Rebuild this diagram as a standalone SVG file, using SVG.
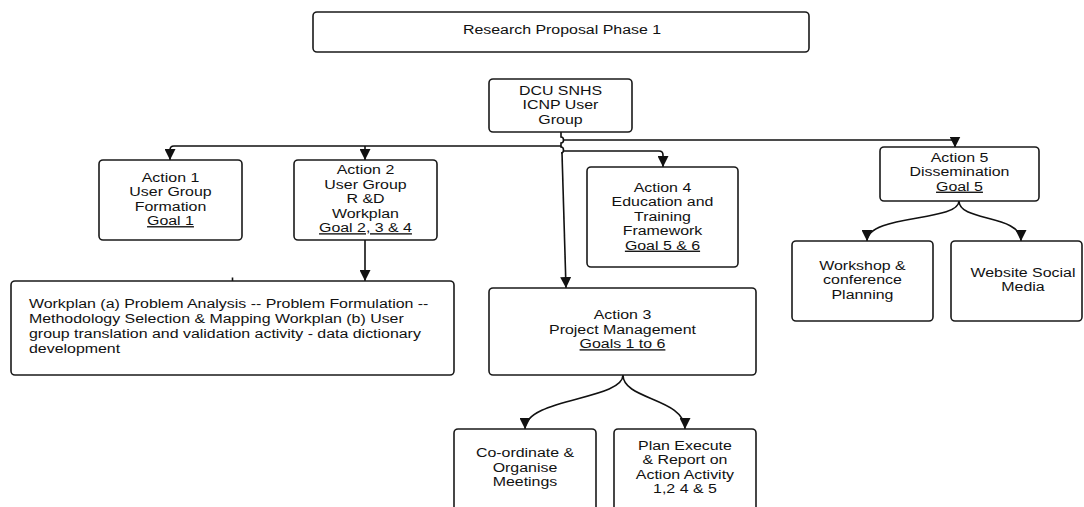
<svg xmlns="http://www.w3.org/2000/svg" width="1084" height="507" viewBox="0 0 1084 507">
<style>
.box{fill:#fff;stroke:#1a1a1a;stroke-width:1.6}
.t{font-family:"Liberation Sans",Arial,sans-serif;font-size:13.5px;fill:#111;text-anchor:middle;transform-box:fill-box;transform-origin:center;transform:scaleX(1.18)}
.tl{text-anchor:start;transform-origin:left center}
.u{text-decoration:underline}
.c{fill:none;stroke:#111;stroke-width:1.6}
</style>
<defs>
<marker id="ah" markerUnits="userSpaceOnUse" markerWidth="11" markerHeight="11" refX="10" refY="5" orient="auto" viewBox="0 0 10 10">
<path d="M0,0 L10,5 L0,10 z" fill="#111"/>
</marker>
</defs>
<rect width="1084" height="507" fill="#fff"/>
<g id="connectors">
<path class="c" d="M561,132 V137 a2.5,3 0 0 1 0,6 V146 H174 Q170,146 170,150 V160" marker-end="url(#ah)"/>
<path class="c" d="M365,146 V160" marker-end="url(#ah)"/>
<path class="c" d="M563,140 H951 Q955,140 955,144 V147.5" marker-end="url(#ah)"/>
<path class="c" d="M561,146 V147 a2.5,3 0 0 1 0,6"/>
<path class="c" d="M563,151 H659 Q663,151 663,155 V167" marker-end="url(#ah)"/>
<path class="c" d="M562,153 L566,288" marker-end="url(#ah)"/>
<path class="c" d="M365,240 V281" marker-end="url(#ah)"/>
<path class="c" d="M232.5,277.5 V281"/>
<path class="c" d="M623,375 C623,400 525,398 525,429" marker-end="url(#ah)"/>
<path class="c" d="M623,375 C623,400 685,398 685,429" marker-end="url(#ah)"/>
<path class="c" d="M959,201 C959,222 867,214 867,241" marker-end="url(#ah)"/>
<path class="c" d="M959,201 C959,222 1021,214 1021,241" marker-end="url(#ah)"/>
</g>
<g id="n-research">
<rect class="box" x="313" y="12" width="496" height="40" rx="4"/>
<text class="t" x="562" y="34.5">Research Proposal Phase 1</text>
</g>
<g id="n-dcu">
<rect class="box" x="489" y="79" width="143" height="53" rx="4"/>
<text class="t" x="560.5" y="95"><tspan x="560.5">DCU SNHS</tspan><tspan x="560.5" dy="14.5">ICNP User</tspan><tspan x="560.5" dy="14.5">Group</tspan></text>
</g>
<g id="n-action1">
<rect class="box" x="99" y="160" width="143" height="80" rx="4"/>
<text class="t" x="170.5" y="181.7"><tspan x="170.5">Action 1</tspan><tspan x="170.5" dy="14.5">User Group</tspan><tspan x="170.5" dy="14.5">Formation</tspan><tspan x="170.5" dy="14.5" class="u">Goal 1</tspan></text>
</g>
<g id="n-action2">
<rect class="box" x="294" y="160" width="143" height="80" rx="4"/>
<text class="t" x="365.5" y="174.3"><tspan x="365.5">Action 2</tspan><tspan x="365.5" dy="14.5">User Group</tspan><tspan x="365.5" dy="14.5">R &amp;D</tspan><tspan x="365.5" dy="14.5">Workplan</tspan><tspan x="365.5" dy="14.5" class="u">Goal 2, 3 &amp; 4</tspan></text>
</g>
<g id="n-workplan">
<rect class="box" x="11" y="281" width="443" height="94" rx="4"/>
<text class="t tl" x="29" y="308.3"><tspan x="29">Workplan (a) Problem Analysis -- Problem Formulation --</tspan><tspan x="29" dy="15">Methodology Selection &amp; Mapping Workplan (b) User</tspan><tspan x="29" dy="15">group translation and validation activity - data dictionary</tspan><tspan x="29" dy="15">development</tspan></text>
</g>
<g id="n-action4">
<rect class="box" x="587" y="167" width="151" height="100" rx="4"/>
<text class="t" x="662.5" y="191.7"><tspan x="662.5">Action 4</tspan><tspan x="662.5" dy="14.5">Education and</tspan><tspan x="662.5" dy="14.5">Training</tspan><tspan x="662.5" dy="14.5">Framework</tspan><tspan x="662.5" dy="14.5" class="u">Goal 5 &amp; 6</tspan></text>
</g>
<g id="n-action3">
<rect class="box" x="489" y="288" width="267" height="87" rx="4"/>
<text class="t" x="622.5" y="319.3"><tspan x="622.5">Action 3</tspan><tspan x="622.5" dy="14.5">Project Management</tspan><tspan x="622.5" dy="14.5" class="u">Goals 1 to 6</tspan></text>
</g>
<g id="n-coordinate">
<rect class="box" x="454" y="429" width="142" height="90" rx="4"/>
<text class="t" x="525" y="457.3"><tspan x="525">Co-ordinate &amp;</tspan><tspan x="525" dy="14.5">Organise</tspan><tspan x="525" dy="14.5">Meetings</tspan></text>
</g>
<g id="n-plan">
<rect class="box" x="614" y="429" width="142" height="90" rx="4"/>
<text class="t" x="685" y="450"><tspan x="685">Plan Execute</tspan><tspan x="685" dy="14.5">&amp; Report on</tspan><tspan x="685" dy="14.5">Action Activity</tspan><tspan x="685" dy="14.5">1,2 4 &amp; 5</tspan></text>
</g>
<g id="n-action5">
<rect class="box" x="880" y="147" width="159" height="54" rx="4"/>
<text class="t" x="959.5" y="161.7"><tspan x="959.5">Action 5</tspan><tspan x="959.5" dy="14.5">Dissemination</tspan><tspan x="959.5" dy="14.5" class="u">Goal 5</tspan></text>
</g>
<g id="n-workshop">
<rect class="box" x="792" y="241" width="141" height="80" rx="4"/>
<text class="t" x="862.5" y="270"><tspan x="862.5">Workshop &amp;</tspan><tspan x="862.5" dy="14.5">conference</tspan><tspan x="862.5" dy="14.5">Planning</tspan></text>
</g>
<g id="n-website">
<rect class="box" x="951" y="241" width="131" height="80" rx="4"/>
<text class="t" x="1023" y="276.7"><tspan x="1023">Website Social</tspan><tspan x="1023" dy="14.5">Media</tspan></text>
</g>
</svg>
